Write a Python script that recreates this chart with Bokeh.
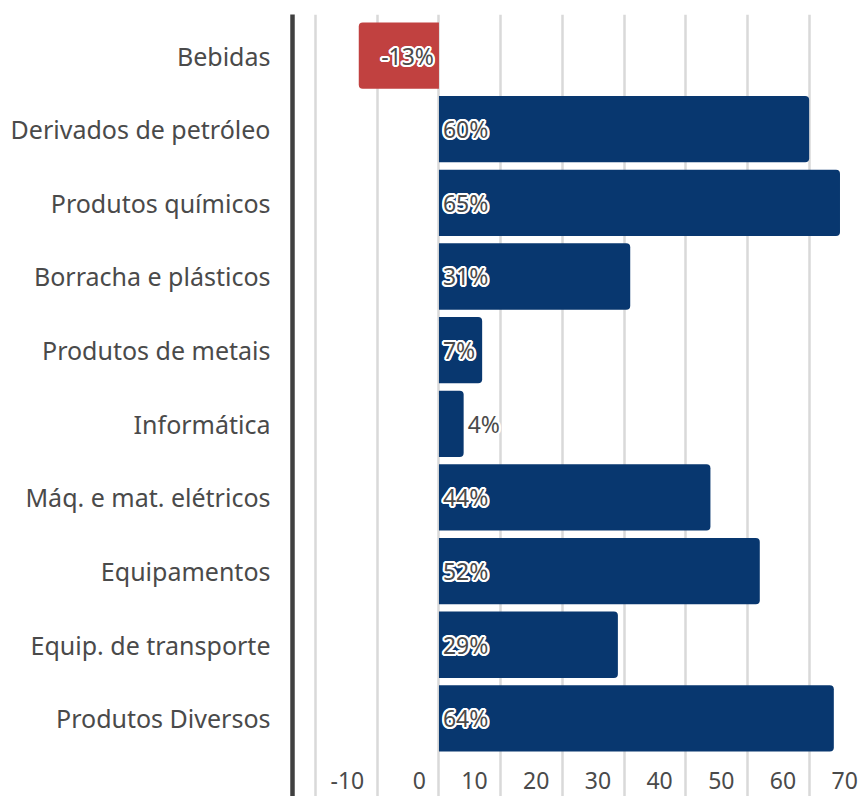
from bokeh.plotting import figure
from bokeh.models import ColumnDataSource, FixedTicker, Range1d
from bokeh.core.properties import value
from bokeh.embed import file_html
from bokeh.resources import INLINE

categories = ["Bebidas", "Derivados de petróleo", "Produtos químicos", "Borracha e plásticos",
              "Produtos de metais", "Informática", "Máq. e mat. elétricos", "Equipamentos",
              "Equip. de transporte", "Produtos Diversos"]
values = [-13, 60, 65, 31, 7, 4, 44, 52, 29, 64]
x_ticks = [-10, 0, 10, 20, 30, 40, 50, 60, 70]
grid_ticks = [-20, -10, 0, 10, 20, 30, 40, 50, 60, 70]

FONT = "Noto Sans"
BLUE = "#08376f"
RED = "#c14140"
TXT = "#4a4a4a"

n = len(categories)
ypos = [n - 1 - i for i in range(n)]

p = figure(width=858, height=796, output_backend="svg", toolbar_location=None,
           x_range=Range1d(-23.74, 68.0), y_range=Range1d(-1.06, 9.557),
           min_border_left=292, min_border_right=0, min_border_top=14, min_border_bottom=0)
p.outline_line_color = None
p.background_fill_color = "white"

# bars
pos = dict(y=[y for y, v in zip(ypos, values) if v >= 0], right=[v for v in values if v >= 0])
neg = dict(y=[y for y, v in zip(ypos, values) if v < 0], right=[v for v in values if v < 0])
p.hbar(y="y", left=0, right="right", height=0.9, source=ColumnDataSource(pos),
       fill_color=BLUE, line_color=None, border_radius=(0, 4, 4, 0))
p.hbar(y="y", left=0, right="right", height=0.9, source=ColumnDataSource(neg),
       fill_color=RED, line_color=None, border_radius=(4, 0, 0, 4))

# grid
p.xgrid.ticker = FixedTicker(ticks=grid_ticks)
p.xgrid.grid_line_color = "#d9d9d9"
p.xgrid.grid_line_width = 2.5
p.ygrid.grid_line_color = None

# axes
p.xaxis.visible = False
ax = p.yaxis[0]
ax.ticker = FixedTicker(ticks=ypos)
ax.major_label_overrides = {y: c for y, c in zip(ypos, categories)}
ax.axis_line_color = "#404040"
ax.axis_line_width = 4.5
ax.major_tick_line_color = None
ax.minor_tick_line_color = None
ax.major_label_standoff = 16
ax.major_label_text_font = FONT
ax.major_label_text_font_size = "25px"
ax.major_label_text_color = TXT

# x tick labels inside frame
tick_y = -0.84
p.text(x=x_ticks, y=[tick_y] * len(x_ticks), text=[str(t) for t in x_ticks],
       text_align="right", text_baseline="middle", x_offset=-13,
       text_font=value(FONT), text_font_size="23px", text_color=TXT)

# bar labels
inside_pos = dict(x=[], y=[], t=[])
inside_neg = dict(x=[], y=[], t=[])
outside = dict(x=[], y=[], t=[])
for y, v in zip(ypos, values):
    t = f"{v}%"
    if v < 0:
        inside_neg["x"].append(0); inside_neg["y"].append(y); inside_neg["t"].append(t)
    elif v >= 6:
        inside_pos["x"].append(0); inside_pos["y"].append(y); inside_pos["t"].append(t)
    else:
        outside["x"].append(v); outside["y"].append(y); outside["t"].append(t)

halo = [(dx, dy) for dx in (-2, -1, 0, 1, 2) for dy in (-2, -1, 0, 1, 2) if (dx, dy) != (0, 0) and dx * dx + dy * dy <= 5]

def labels(src, align, xoff, halo_on=True):
    s = ColumnDataSource(src)
    if halo_on:
        for dx, dy in halo:
            p.text(x="x", y="y", text="t", source=s, text_align=align, text_baseline="middle",
                   x_offset=xoff + dx, y_offset=dy, text_font=value(FONT), text_font_size="23px",
                   text_color="white")
    p.text(x="x", y="y", text="t", source=s, text_align=align, text_baseline="middle",
           x_offset=xoff, text_font=value(FONT), text_font_size="23px", text_color=TXT)

labels(inside_pos, "left", 4)
labels(inside_neg, "right", -5)
labels(outside, "left", 4)

open("out.html", "w").write(file_html(p, INLINE))
